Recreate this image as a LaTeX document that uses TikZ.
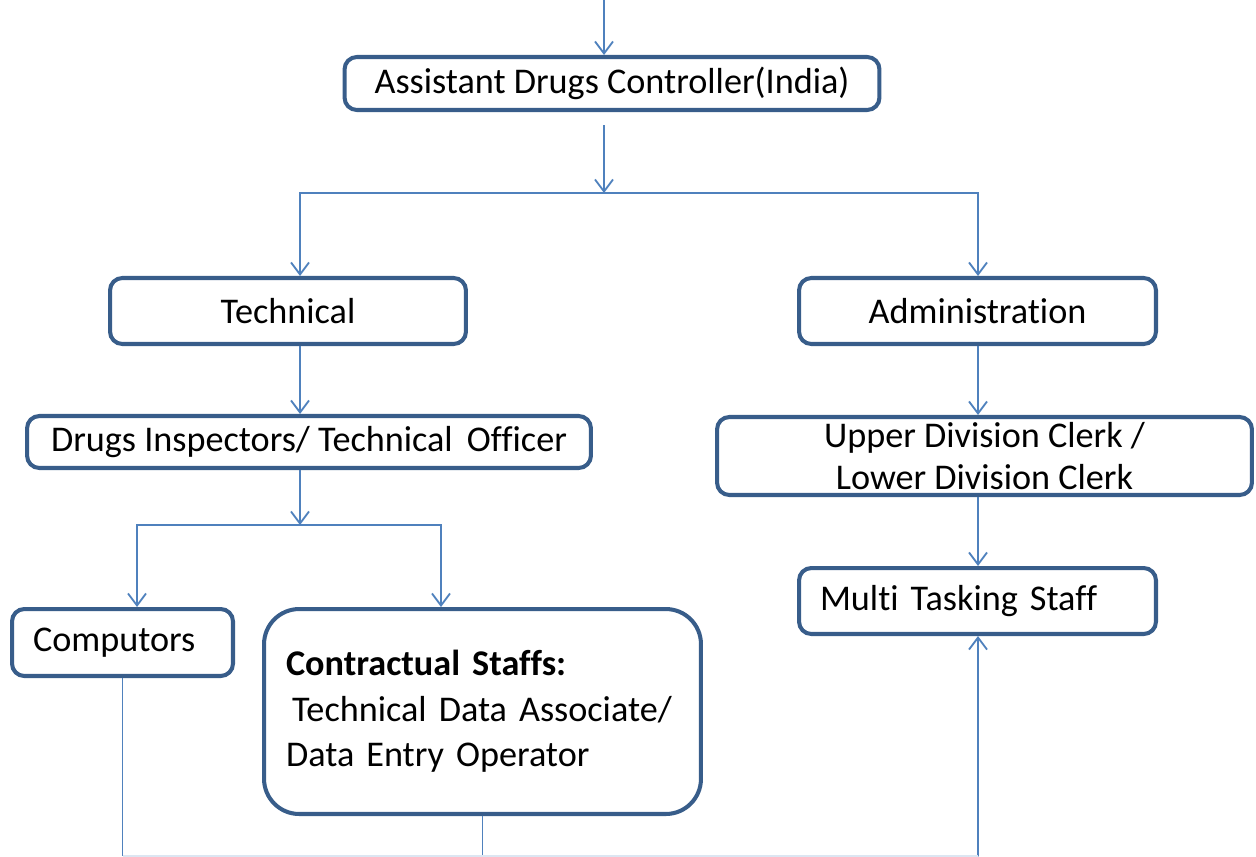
\documentclass[tikz,border=0pt]{standalone}
\usepackage{fontspec}
\setmainfont{Carlito}[Ligatures=NoCommon]
\usetikzlibrary{arrows.meta}
\definecolor{boxblue}{RGB}{56,93,138}
\definecolor{lineblue}{RGB}{79,129,189}

\begin{document}
\begin{tikzpicture}[x=0.02cm,y=-0.02cm,>={Straight Barb[length=0.24cm,width=0.36cm]},
  box/.style={draw=boxblue,line width=2.3pt,rounded corners=7pt,fill=white,
    font=\fontsize{20.6}{26}\selectfont,inner sep=0pt},
  link/.style={draw=lineblue,line width=1.05pt}]

\useasboundingbox (0,0) rectangle (1256,856);

% define the boxes
  \node[box,minimum width=10.7cm,minimum height=1.06cm]  (adc)   at (612,83.5)
{Assistant Drugs Controller(India)};
  \node[box,minimum width=7.12cm,minimum height=1.32cm]  (tech)  at (288,311)
{Technical};
  \node[box,minimum width=7.14cm,minimum height=1.32cm]  (admin) at (977.5,311)
{Administration};
  \node[box,minimum width=11.28cm,minimum height=1.04cm] (di)    at (309,442)
{Drugs Inspectors/ Technical\, Officer};
  \node[box,minimum width=10.7cm,minimum height=1.56cm,align=center,
        font=\fontsize{20.6}{24.4}\selectfont]           (udc)   at (984.5,456)
{Upper Division Clerk /\hspace{0.6cm}\\ Lower Division Clerk};
  \node[box,text width=3.58cm,inner xsep=0.42cm,minimum height=1.34cm,align=left]
                                                         (comp)  at (122.5,642.5)
{Computors};
  \node[box,text width=7.86cm,inner xsep=0.44cm,minimum height=4.1cm,align=left,
        rounded corners=20pt]                            (cont)  at (482.5,711.5)
{\textbf{Contractual Staffs:}\\ \hspace{0.12cm}Technical Data Associate/\\ Data Entry Operator};
  \node[box,text width=6.3cm,inner xsep=0.42cm,minimum height=1.32cm,align=left]
                                                         (mts)   at (977.5,601)
{Multi Tasking Staff};

% define the branch points
  \coordinate (top)    at (604,0);
  \coordinate (split)  at (604,193);
  \coordinate (lcol)   at (300,0);
  \coordinate (split2) at (300,525);
  \coordinate (ccol)   at (137,0);
  \coordinate (kcol)   at (441,0);
  \coordinate (bottom) at (978,856);

% define the links
  \path[->,link] (top) edge (top |- adc.north)
        ([yshift=-0.26cm]adc.south -| top) edge (split)
        (tech.south -| lcol) edge (lcol |- di.north)
        (di.south -| lcol) edge (split2)
        (admin.south -| bottom) edge (bottom |- udc.north)
        (udc.south -| bottom) edge (bottom |- mts.north)
        (bottom) edge (bottom |- mts.south);
  \draw[<->,link] (lcol |- tech.north) |- (split) -| (bottom |- admin.north);
  \draw[<->,link] (ccol |- comp.north) |- (split2) -| (kcol |- cont.north);
  \draw[link] (comp.south) -- (comp.south |- bottom);
  \draw[link] (cont.south) -- (cont.south |- bottom);
  \draw[link,draw=lineblue!20] (comp.south |- bottom) -- (bottom);

\end{tikzpicture}
\end{document}
